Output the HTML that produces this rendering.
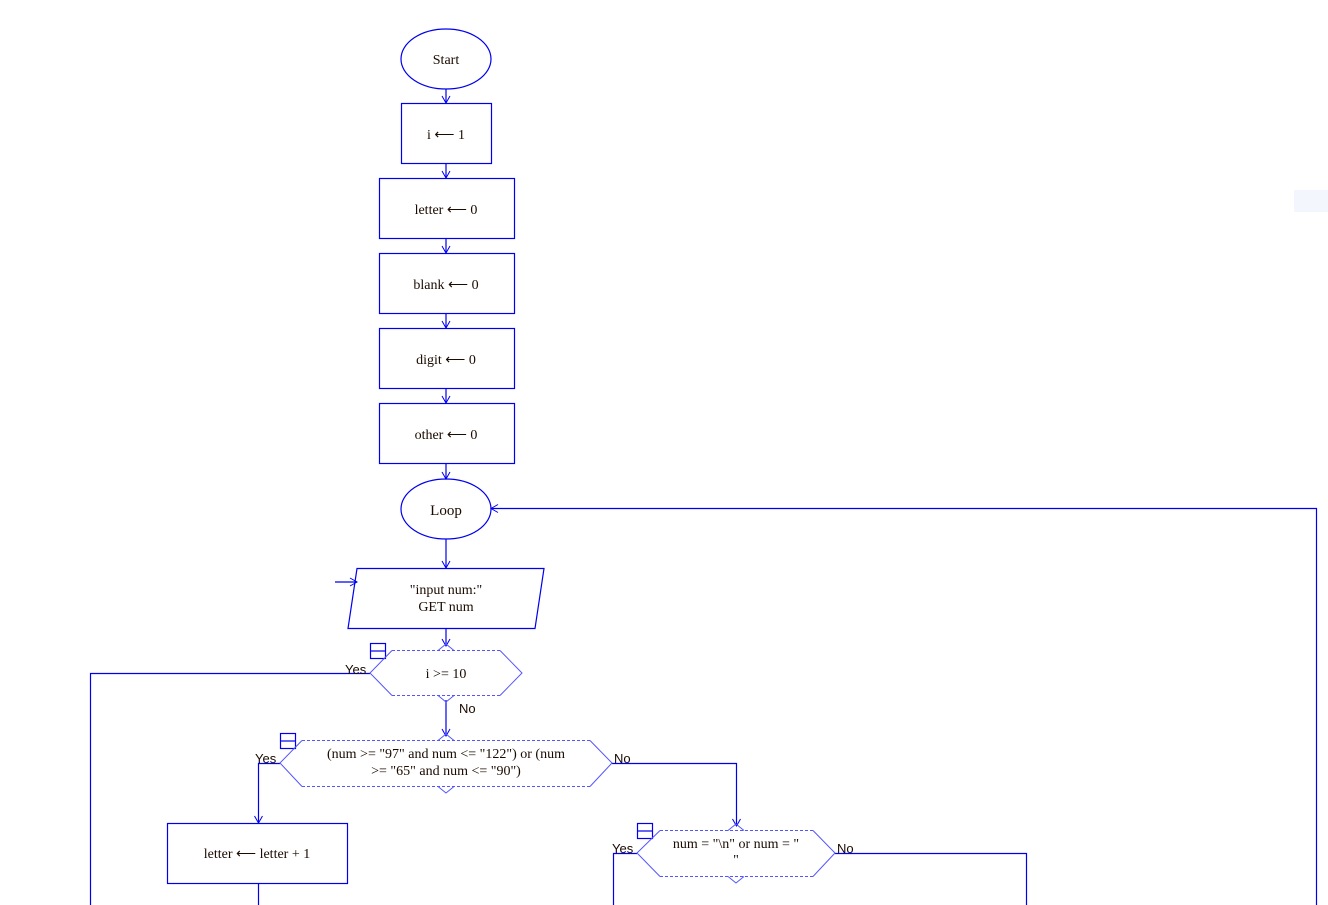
<!DOCTYPE html>
<html><head><meta charset="utf-8"><style>
html,body{margin:0;padding:0;background:#fff;width:1328px;height:905px;overflow:hidden}
svg{display:block}
text{font-family:"Liberation Serif",serif;font-size:14px;fill:#1a0a00}
.s{font-family:"Liberation Sans",sans-serif;font-size:13px}
</style></head><body>
<svg width="1328" height="905" viewBox="0 0 1328 905" xmlns="http://www.w3.org/2000/svg">
<defs>
<marker id="a" markerWidth="10" markerHeight="10" refX="8" refY="5" orient="auto" markerUnits="userSpaceOnUse">
<path d="M1,1 L8,5 L1,9" fill="none" stroke="#0000ee" stroke-width="1"/>
</marker>
</defs>
<g fill="none" stroke="#0000ee" stroke-width="1.2">
<ellipse cx="446" cy="59" rx="45" ry="30"/>
<rect x="401.5" y="103.5" width="90" height="60"/>
<rect x="379.5" y="178.5" width="135" height="60"/>
<rect x="379.5" y="253.5" width="135" height="60"/>
<rect x="379.5" y="328.5" width="135" height="60"/>
<rect x="379.5" y="403.5" width="135" height="60"/>
<ellipse cx="446" cy="509" rx="45" ry="30"/>
<polygon points="357,568.5 544,568.5 535,628.5 348,628.5"/>
<rect x="167.5" y="823.5" width="180" height="60"/>
<line x1="446" y1="89" x2="446" y2="103" marker-end="url(#a)"/>
<line x1="446" y1="163" x2="446" y2="178" marker-end="url(#a)"/>
<line x1="446" y1="238" x2="446" y2="253" marker-end="url(#a)"/>
<line x1="446" y1="313" x2="446" y2="328" marker-end="url(#a)"/>
<line x1="446" y1="388" x2="446" y2="403" marker-end="url(#a)"/>
<line x1="446" y1="463" x2="446" y2="479" marker-end="url(#a)"/>
<line x1="446" y1="539" x2="446" y2="568" marker-end="url(#a)"/>
<line x1="335" y1="582" x2="357" y2="582" marker-end="url(#a)"/>
<line x1="446" y1="628" x2="446" y2="646" marker-end="url(#a)"/>
<line x1="446" y1="700" x2="446" y2="736" marker-end="url(#a)"/>
<polyline points="370,673.5 90.5,673.5 90.5,905"/>
<polyline points="280,763.5 258.5,763.5 258.5,823" marker-end="url(#a)"/>
<line x1="258.5" y1="883" x2="258.5" y2="905"/>
<polyline points="612,763.5 736.5,763.5 736.5,826" marker-end="url(#a)"/>
<polyline points="637,853.5 613.5,853.5 613.5,905"/>
<polyline points="835,853.5 1026.5,853.5 1026.5,905"/>
<polyline points="1316.5,905 1316.5,508.5 491,508.5" marker-end="url(#a)"/>
<rect x="370.5" y="643.5" width="15" height="15"/>
<line x1="370" y1="651" x2="386" y2="651"/>
<rect x="280.5" y="733.5" width="15" height="15"/>
<line x1="280" y1="741" x2="296" y2="741"/>
<rect x="637.5" y="823.5" width="15" height="15"/>
<line x1="637" y1="831" x2="653" y2="831"/>
</g>
<g fill="none" stroke="#5555ff" stroke-width="1">
<polyline points="392,650.5 370,673 392,695.5"/>
<polyline points="500,650.5 522,673 500,695.5"/>
<line x1="392" y1="650.5" x2="500" y2="650.5" stroke-dasharray="3,2"/>
<line x1="392" y1="695.5" x2="500" y2="695.5" stroke-dasharray="3,2"/>
<polyline points="438,650.5 446,644 454,650.5"/>
<polyline points="438,695.5 446,702 454,695.5"/>
<polyline points="302,740.5 280,763 302,786.5"/>
<polyline points="590,740.5 612,763 590,786.5"/>
<line x1="302" y1="740.5" x2="590" y2="740.5" stroke-dasharray="3,2"/>
<line x1="302" y1="786.5" x2="590" y2="786.5" stroke-dasharray="3,2"/>
<polyline points="438,740.5 446,734 454,740.5"/>
<polyline points="438,786.5 446,793 454,786.5"/>
<polyline points="660,830.5 637,853 660,876.5"/>
<polyline points="813,830.5 835,853 813,876.5"/>
<line x1="660" y1="830.5" x2="813" y2="830.5" stroke-dasharray="3,2"/>
<line x1="660" y1="876.5" x2="813" y2="876.5" stroke-dasharray="3,2"/>
<polyline points="728,830.5 736,824 744,830.5"/>
<polyline points="728,876.5 736,883 744,876.5"/>
</g>
<g text-anchor="middle">
<text x="446" y="64">Start</text>
<text x="446" y="139">i ⟵ 1</text>
<text x="446" y="214">letter ⟵ 0</text>
<text x="446" y="289">blank ⟵ 0</text>
<text x="446" y="364">digit ⟵ 0</text>
<text x="446" y="439">other ⟵ 0</text>
<text x="446" y="515" style="font-size:15px">Loop</text>
<text x="446" y="594">"input num:"</text>
<text x="446" y="611">GET num</text>
<text x="446" y="678">i &gt;= 10</text>
<text x="446" y="758">(num &gt;= "97" and num &lt;= "122") or (num</text>
<text x="446" y="775">&gt;= "65" and num &lt;= "90")</text>
<text x="736" y="848">num = "\n" or num = "</text>
<text x="736" y="864">"</text>
<text x="257" y="858">letter ⟵ letter  +  1</text>
</g>
<text class="s" x="345" y="674">Yes</text>
<text class="s" x="459" y="713">No</text>
<text class="s" x="255" y="763">Yes</text>
<text class="s" x="614" y="763">No</text>
<text class="s" x="612" y="853">Yes</text>
<text class="s" x="837" y="853">No</text>
<rect x="1294" y="190" width="34" height="22" fill="#f4f6fd"/>
</svg>
</body></html>
